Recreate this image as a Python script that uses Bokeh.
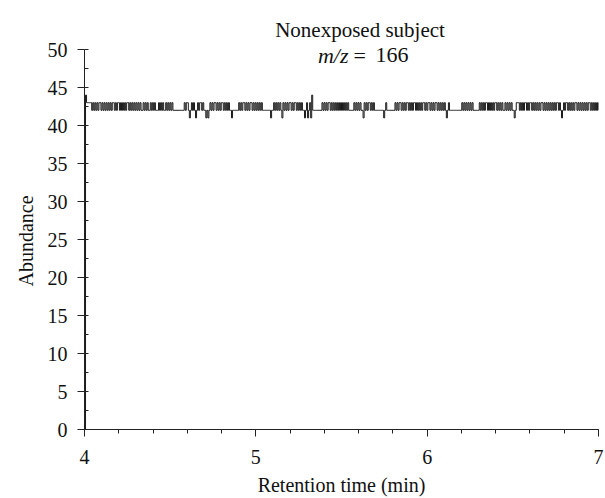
import numpy as np
from bokeh.plotting import figure
from bokeh.models import Range1d, SingleIntervalTicker, Label, ColumnDataSource, Title
from bokeh.embed import file_html
from bokeh.resources import INLINE

# ---- data ----
title_line1 = "Nonexposed subject"
title_mz = "m/z"
title_eq = "="
title_value = "166"
x_label = "Retention time (min)"
y_label = "Abundance"
rt_start = 4.0
rt_end = 7.0

abundance = [
    0, 44, 43, 43, 43, 43, 43, 42, 43, 42, 43, 42, 43, 42, 43, 43, 42, 43, 42, 43,
    42, 43, 42, 43, 42, 43, 42, 43, 43, 42, 43, 42, 43, 43, 42, 43, 42, 43, 42, 43,
    42, 43, 43, 42, 43, 42, 43, 42, 43, 42,
    43, 42, 43, 42, 43, 42, 42, 43, 42, 43, 42, 43, 42, 42, 43, 42, 43, 42, 43, 42,
    42, 42, 43, 42, 43, 42, 43, 42, 42, 43, 42, 43, 42, 43, 42, 43, 42, 42, 42, 42,
    42, 42, 42, 42, 42, 42, 42, 43, 42, 43,
    43, 42, 41, 42, 43, 42, 43, 42, 41, 42, 43, 42, 43, 43, 42, 43, 42, 42, 41, 42,
    41, 42, 43, 42, 43, 42, 43, 43, 42, 43, 42, 43, 42, 43, 43, 42, 43, 42, 43, 42,
    43, 42, 42, 41, 42, 42, 42, 42, 42, 42,
    43, 42, 43, 42, 43, 43, 42, 43, 42, 43, 42, 43, 43, 42, 43, 42, 43, 42, 43, 42,
    43, 42, 43, 42, 42, 42, 42, 42, 42, 42, 42, 41, 42, 42, 43, 42, 43, 42, 43, 42,
    43, 42, 41, 43, 42, 43, 42, 43, 42, 43,
    43, 42, 43, 42, 43, 43, 42, 43, 42, 43, 42, 43, 42, 42, 41, 42, 43, 41, 42, 43,
    41, 44, 42, 42, 42, 42, 42, 42, 42, 42, 42, 43, 42, 43, 42, 43, 42, 43, 43, 42,
    43, 42, 43, 42, 43, 42, 43, 42, 43, 42,
    43, 42, 43, 42, 43, 42, 43, 42, 42, 42, 42, 42, 43, 42, 43, 42, 43, 42, 43, 42,
    42, 41, 43, 42, 43, 42, 43, 43, 42, 43, 42, 43, 42, 42, 42, 42, 42, 42, 42, 42,
    42, 41, 42, 43, 42, 42, 42, 42, 42, 42,
    42, 42, 43, 42, 43, 42, 43, 43, 42, 43, 42, 43, 42, 43, 43, 42, 43, 42, 43, 42,
    43, 43, 42, 43, 42, 43, 42, 43, 42, 43, 43, 42, 43, 42, 43, 43, 42, 43, 42, 43,
    42, 43, 43, 42, 43, 42, 43, 42, 43, 42,
    43, 42, 41, 42, 43, 42, 42, 42, 42, 42, 42, 42, 42, 42, 42, 42, 42, 43, 42, 43,
    42, 43, 42, 43, 42, 43, 42, 43, 42, 42, 42, 42, 42, 42, 43, 42, 43, 42, 43, 42,
    43, 43, 42, 43, 42, 43, 42, 43, 42, 43,
    43, 42, 43, 42, 43, 42, 43, 42, 42, 43, 42, 43, 42, 43, 42, 43, 42, 42, 41, 42,
    43, 43, 43, 42, 43, 42, 43, 42, 43, 43, 42, 43, 42, 43, 43, 42, 43, 42, 43, 42,
    43, 42, 43, 42, 43, 43, 42, 43, 42, 43,
    42, 43, 42, 43, 42, 43, 42, 43, 42, 43, 43, 42, 43, 42, 41, 42, 43, 42, 43, 43,
    42, 43, 42, 43, 42, 43, 42, 43, 43, 42, 43, 42, 43, 42, 43, 42, 43, 42, 43, 42,
    43, 43, 42, 43, 42, 43, 42, 43, 42, 43, 42,
]
retention_time = np.linspace(rt_start, rt_end, len(abundance))

FONT = "Liberation Serif"

p = figure(width=604, height=498,
           x_range=Range1d(4, 7), y_range=Range1d(0, 55),
           output_backend="svg", toolbar_location=None,
           min_border_left=84, min_border_right=6,
           min_border_top=11, min_border_bottom=60)

p.outline_line_color = None
p.xgrid.visible = False
p.ygrid.visible = False
p.background_fill_color = "white"
p.border_fill_color = "white"

src = ColumnDataSource(dict(t=retention_time, a=abundance))
p.step("t", "a", source=src, mode="after", line_color="#1a1a1a", line_width=1)

p.xaxis.ticker = SingleIntervalTicker(interval=1, num_minor_ticks=5)
p.yaxis.ticker = SingleIntervalTicker(interval=5, num_minor_ticks=2)
p.yaxis.bounds = (0, 50)

for ax in (p.xaxis, p.yaxis):
    ax.axis_line_color = "#222222"
    ax.major_tick_line_color = "#222222"
    ax.minor_tick_line_color = "#222222"
    ax.major_tick_out = 7
    ax.major_tick_in = 0
    ax.major_label_text_font = FONT
    ax.major_label_text_font_size = "20px"
    ax.major_label_text_color = "#111111"
    ax.major_label_text_line_height = 1.0
    ax.axis_label_text_font = FONT
    ax.axis_label_text_font_size = "20px"
    ax.axis_label_text_font_style = "normal"
    ax.axis_label_text_color = "#111111"
    ax.axis_label_text_line_height = 1.0

p.xaxis.minor_tick_out = 4
p.xaxis.minor_tick_in = 0
p.yaxis.minor_tick_out = 0
p.yaxis.minor_tick_in = 4

p.xaxis.axis_label = x_label
p.xaxis.major_label_standoff = 13
p.xaxis.axis_label_standoff = 7
p.yaxis.major_label_standoff = 10

# y-axis caption as a side title so it can be centred on the 0-50 span
p.add_layout(Title(text=y_label, align="left", vertical_align="bottom",
                   offset=143, standoff=15, text_font=FONT,
                   text_font_size="20px", text_font_style="normal",
                   text_line_height=1.0,
                   text_color="#111111"), "left")

p.add_layout(Label(x=5.608, y=52.60, text=title_line1, text_align="center",
                   text_baseline="alphabetic", text_font=FONT,
                   text_font_size="21px", text_color="#111111"))
p.add_layout(Label(x=5.541, y=49.22, text=title_mz, text_align="right",
                   text_baseline="alphabetic", text_font=FONT,
                   text_font_style="italic",
                   text_font_size="22px", text_color="#111111"))
p.add_layout(Label(x=5.570, y=49.22, text=title_eq, text_align="left",
                   text_baseline="alphabetic", text_font=FONT,
                   text_font_size="22px", text_color="#111111"))
p.add_layout(Label(x=5.698, y=49.22, text=title_value, text_align="left",
                   text_baseline="alphabetic", text_font=FONT,
                   text_font_size="22px", text_color="#111111"))

open("out.html", "w").write(file_html(p, INLINE))
